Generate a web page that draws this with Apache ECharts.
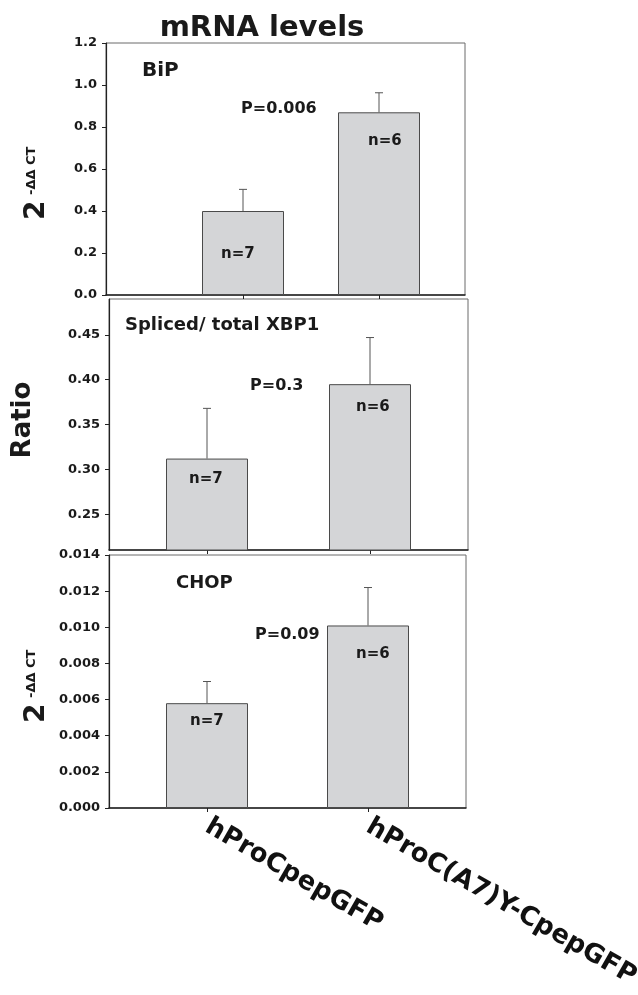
<!DOCTYPE html>
<html>
<head>
<meta charset="utf-8">
<script src="https://cdn.jsdelivr.net/npm/echarts@6/dist/echarts.min.js"></script>
<style>
  html, body { margin: 0; padding: 0; background: #fff; }
  #box1 { width: 638px; height: 995px; }
</style>
</head>
<body>
<div id="box1"></div>
<script>
var mrnaChart = echarts.init(document.getElementById('box1'));

// groups on the x axis
var categories = ['hProCpepGFP', 'hProC(A7)Y-CpepGFP'];

// BiP, 2^-ddCT
var bipMean = [0.40, 0.87];
var bipErr = [0.103, 0.093];
var bipTicks = [0, 0.2, 0.4, 0.6, 0.8, 1.0, 1.2];

// spliced / total XBP1 ratio
var xbpMean = [0.312, 0.395];
var xbpErr = [0.056, 0.052];
var xbpTicks = [0.25, 0.30, 0.35, 0.40, 0.45];

// CHOP, 2^-ddCT
var chopMean = [0.0058, 0.0101];
var chopErr = [0.0012, 0.0021];
var chopTicks = [0, 0.002, 0.004, 0.006, 0.008, 0.010, 0.012, 0.014];

var nCounts = ['n=7', 'n=6'];
var pValues = ['P=0.006', 'P=0.3', 'P=0.09'];
var panelNames = ['BiP', 'Spliced/ total XBP1', 'CHOP'];

var FONT = 'DejaVu Sans';
var INK = '#1a1a1a';

// frame boxes (with the y axis) and the inner grids holding the bars
var frames = [
  { left: 106, top: 43, width: 359, height: 252 },
  { left: 109, top: 299, width: 359, height: 251 },
  { left: 109, top: 555, width: 357, height: 253 }
];
var barGrids = [
  { left: 175, top: 43, width: 272, height: 252 },
  { left: 125.5, top: 299, width: 326, height: 251 },
  { left: 126.5, top: 555, width: 322, height: 253 }
];
var ranges = [
  { min: 0, max: 1.2, ticks: bipTicks, digits: 1 },
  { min: 0.21, max: 0.49, ticks: xbpTicks, digits: 2 },
  { min: 0, max: 0.014, ticks: chopTicks, digits: 3 }
];

var grids = [];
var xAxes = [];
var yAxes = [];
frames.forEach(function(f) {
  grids.push({
    left: f.left, top: f.top, width: f.width, height: f.height,
    show: true, borderColor: '#6a6a6a', borderWidth: 1,
    containLabel: false, outerBoundsMode: 'none'
  });
});
barGrids.forEach(function(g) {
  grids.push({
    left: g.left, top: g.top, width: g.width, height: g.height,
    containLabel: false, outerBoundsMode: 'none'
  });
});

for (var i = 0; i < 3; i++) {
  var r = ranges[i];
  // frame axes
  xAxes.push({
    gridIndex: i, type: 'value', min: 0, max: 1,
    axisLine: { show: true, onZero: false, lineStyle: { color: '#222', width: 1.5 } },
    axisTick: { show: false }, axisLabel: { show: false }, splitLine: { show: false }
  });
  yAxes.push({
    gridIndex: i, type: 'value', min: r.min, max: r.max,
    axisLine: { show: true, onZero: false, lineStyle: { color: '#222', width: 1.2 } },
    axisTick: { show: true, length: 4, customValues: r.ticks, lineStyle: { color: '#222' } },
    axisLabel: {
      customValues: r.ticks, margin: 9,
      fontFamily: FONT, fontWeight: 'bold', fontSize: 13, color: INK,
      formatter: (function(d) {
        return function(v) { return v.toFixed(d); };
      })(r.digits)
    },
    splitLine: { show: false }
  });
}
for (var j = 0; j < 3; j++) {
  xAxes.push({
    gridIndex: 3 + j, type: 'category', data: categories,
    axisLine: { show: false },
    axisTick: { show: true, alignWithLabel: true, length: 4, lineStyle: { color: '#222' } },
    axisLabel: {
      show: j === 2, rotate: -30, margin: 17, interval: 0,
      fontFamily: FONT, fontWeight: 'bold', fontSize: 26, color: '#111'
    },
    splitLine: { show: false }
  });
  yAxes.push({
    gridIndex: 3 + j, type: 'value', min: ranges[j].min, max: ranges[j].max,
    show: false, splitLine: { show: false }
  });
}

function barSeries(k, values) {
  return {
    type: 'bar', xAxisIndex: 3 + k, yAxisIndex: 3 + k,
    data: values, barWidth: 82, clip: true,
    itemStyle: { color: '#d4d5d7', borderColor: '#4a4a4a', borderWidth: 1 },
    silent: true
  };
}

function errSeries(k, means, errs) {
  return {
    type: 'custom', xAxisIndex: 3 + k, yAxisIndex: 3 + k,
    data: means.map(function(m, i) { return [i, m, errs[i]]; }),
    encode: { x: 0, y: 1 },
    z: 3,
    renderItem: function(params, api) {
      var p0 = api.coord([api.value(0), api.value(1)]);
      var p1 = api.coord([api.value(0), api.value(1) + api.value(2)]);
      var st = { stroke: '#555', lineWidth: 1 };
      return {
        type: 'group',
        children: [
          { type: 'line', shape: { x1: p0[0], y1: p0[1], x2: p1[0], y2: p1[1] }, style: st },
          { type: 'line', shape: { x1: p1[0] - 4, y1: p1[1], x2: p1[0] + 4, y2: p1[1] }, style: st }
        ]
      };
    }
  };
}

function label(text, x, y, size) {
  return {
    type: 'text', left: x, top: y - size * 0.5, z: 20,
    style: { text: text, fontFamily: FONT, fontWeight: 'bold', fontSize: size, fill: INK }
  };
}

// rotated y axis title 2^-ddCT
function ddctTitle(cx, cy) {
  return {
    type: 'group', x: cx, y: cy, rotation: Math.PI / 2, z: 20,
    children: [
      { type: 'text', x: -38, y: 0,
        style: { text: '2', fontFamily: FONT, fontWeight: 'bold', fontSize: 28, fill: INK,
                 align: 'left', verticalAlign: 'middle' } },
      { type: 'text', x: -13, y: -12,
        style: { text: '-\u0394\u0394 CT', fontFamily: FONT, fontWeight: 'bold', fontSize: 13, fill: INK,
                 align: 'left', verticalAlign: 'top' } }
    ]
  };
}

var option = {
  animation: false,
  backgroundColor: '#fff',
  grid: grids,
  xAxis: xAxes,
  yAxis: yAxes,
  graphic: [
    { type: 'text', x: 262, y: 28, z: 20,
      style: { text: 'mRNA levels', fontFamily: FONT, fontWeight: 'bold', fontSize: 29, fill: INK,
               align: 'center', verticalAlign: 'middle' } },
    ddctTitle(37, 182),
    ddctTitle(37, 685),
    { type: 'text', x: 23, y: 420, rotation: Math.PI / 2, z: 20,
      style: { text: 'Ratio', fontFamily: FONT, fontWeight: 'bold', fontSize: 26, fill: INK,
               align: 'center', verticalAlign: 'middle' } },
    label(panelNames[0], 142, 71, 20),
    label(pValues[0], 241, 109, 16),
    label(nCounts[0], 221, 254, 15),
    label(nCounts[1], 368, 141, 15),
    label(panelNames[1], 125, 325, 18),
    label(pValues[1], 250, 386, 16),
    label(nCounts[0], 189, 479, 15),
    label(nCounts[1], 356, 407, 15),
    label(panelNames[2], 176, 583, 18),
    label(pValues[2], 255, 635, 16),
    label(nCounts[0], 190, 721, 15),
    label(nCounts[1], 356, 654, 15)
  ],
  series: [
    barSeries(0, bipMean), errSeries(0, bipMean, bipErr),
    barSeries(1, xbpMean), errSeries(1, xbpMean, xbpErr),
    barSeries(2, chopMean), errSeries(2, chopMean, chopErr)
  ]
};

mrnaChart.setOption(option);
</script>
</body>
</html>
